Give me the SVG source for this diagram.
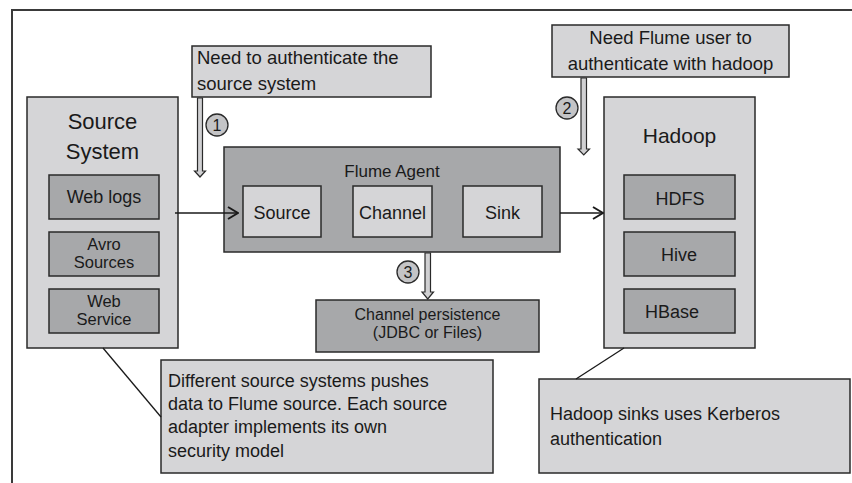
<svg xmlns="http://www.w3.org/2000/svg" width="852" height="483" viewBox="0 0 852 483">
<defs>
<style>
text{font-family:"Liberation Sans",Arial,sans-serif;fill:#1a1a1a}
.lt{fill:#d5d5d7;stroke:#2a2a2a;stroke-width:1.5}
.dk{fill:#a7a8aa;stroke:#2a2a2a;stroke-width:1.5}
.ha{fill:#d0d0d2;stroke:#2a2a2a;stroke-width:1.2}
.cir{fill:#c4c4c6;stroke:#2a2a2a;stroke-width:1.3}
.ln{stroke:#1a1a1a;stroke-width:1.3;fill:none}
.c{text-anchor:middle}
</style>
<marker id="chev" viewBox="0 0 12 14" refX="11" refY="7" markerWidth="12" markerHeight="14" markerUnits="userSpaceOnUse" orient="auto">
<path d="M1,1 L11,7 L1,13" fill="none" stroke="#1a1a1a" stroke-width="2"/>
</marker>
</defs>
<rect width="852" height="483" fill="#fff"/>
<g id="frame"><path d="M12,483 V10 H852" fill="none" stroke="#3a3a3a" stroke-width="2"/></g>

<g id="note-auth-source">
<rect class="lt" x="192" y="46" width="239" height="51"/>
<text x="197" y="64" font-size="18.5">Need to authenticate the</text>
<text x="197" y="90" font-size="18.5">source system</text>
</g>

<g id="note-auth-hadoop">
<rect class="lt" x="552" y="25" width="237" height="52"/>
<text class="c" x="670.5" y="44" font-size="18.5">Need Flume user to</text>
<text class="c" x="670.5" y="70" font-size="18.5">authenticate with hadoop</text>
</g>

<g id="source-system">
<rect class="lt" x="27" y="97" width="151" height="251"/>
<text class="c" x="102.5" y="129" font-size="22">Source</text>
<text class="c" x="102.5" y="159" font-size="22">System</text>
<rect class="dk" x="49" y="175" width="110" height="44"/>
<text class="c" x="104" y="203" font-size="18">Web logs</text>
<rect class="dk" x="49" y="232" width="110" height="44"/>
<text class="c" x="104" y="250" font-size="16.5">Avro</text>
<text class="c" x="104" y="268" font-size="16.5">Sources</text>
<rect class="dk" x="49" y="289" width="110" height="44"/>
<text class="c" x="104" y="307" font-size="16.5">Web</text>
<text class="c" x="104" y="325" font-size="16.5">Service</text>
</g>

<g id="flume-agent">
<rect class="dk" x="224" y="147" width="336" height="105"/>
<text class="c" x="392" y="177" font-size="17">Flume Agent</text>
<rect class="lt" x="243" y="186" width="78" height="51"/>
<text class="c" x="282" y="219" font-size="18">Source</text>
<rect class="lt" x="353" y="186" width="79" height="51"/>
<text class="c" x="392.5" y="219" font-size="18">Channel</text>
<rect class="lt" x="463" y="186" width="79" height="51"/>
<text class="c" x="502.5" y="219" font-size="18">Sink</text>
</g>

<g id="hadoop">
<rect class="lt" x="604" y="97" width="151" height="251"/>
<text class="c" x="679.5" y="143" font-size="21">Hadoop</text>
<rect class="dk" x="624" y="175" width="111" height="44"/>
<text class="c" x="680" y="205" font-size="18">HDFS</text>
<rect class="dk" x="624" y="232" width="111" height="44"/>
<text class="c" x="679" y="261" font-size="18">Hive</text>
<rect class="dk" x="624" y="289" width="111" height="44"/>
<text class="c" x="672" y="318" font-size="18">HBase</text>
</g>

<g id="channel-persistence">
<rect class="dk" x="316" y="300" width="223" height="52"/>
<text class="c" x="427.5" y="320" font-size="16">Channel persistence</text>
<text class="c" x="427.5" y="338" font-size="16">(JDBC or Files)</text>
</g>

<g id="note-source-security">
<rect class="lt" x="161" y="360" width="332" height="113"/>
<text x="168" y="387" font-size="18">Different source systems pushes</text>
<text x="168" y="410" font-size="18">data to Flume source. Each source</text>
<text x="168" y="433" font-size="18">adapter implements its own</text>
<text x="168" y="457" font-size="18">security model</text>
</g>

<g id="note-kerberos">
<rect class="lt" x="539" y="379" width="311" height="94"/>
<text x="550" y="420" font-size="18">Hadoop sinks uses Kerberos</text>
<text x="550" y="445" font-size="18">authentication</text>
</g>

<g id="badge-1"><circle class="cir" cx="217" cy="125" r="11"/><text class="c" x="217" y="131" font-size="16">1</text></g>
<g id="badge-2"><circle class="cir" cx="567" cy="108" r="11"/><text class="c" x="567" y="114" font-size="16">2</text></g>
<g id="badge-3"><circle class="cir" cx="408" cy="272" r="11"/><text class="c" x="408" y="278" font-size="16">3</text></g>

<g id="connectors">
<line class="ln" x1="175" y1="213" x2="238" y2="213" marker-end="url(#chev)"/>
<line class="ln" x1="560" y1="213" x2="603" y2="213" marker-end="url(#chev)"/>
<line class="ln" x1="103" y1="348" x2="161" y2="417"/>
<line class="ln" x1="624" y1="348" x2="576" y2="379"/>
<path class="ha" d="M197.5,98 H202.5 V171 H205.5 L200,177 L194.5,171 H197.5 Z"/>
<path class="ha" d="M581,78 H586.5 V149 H589.5 L583.75,155 L578,149 H581 Z"/>
<path class="ha" d="M425,253 H430.5 V292 H433.5 L427.75,299 L422,292 H425 Z"/>
</g>
</svg>
